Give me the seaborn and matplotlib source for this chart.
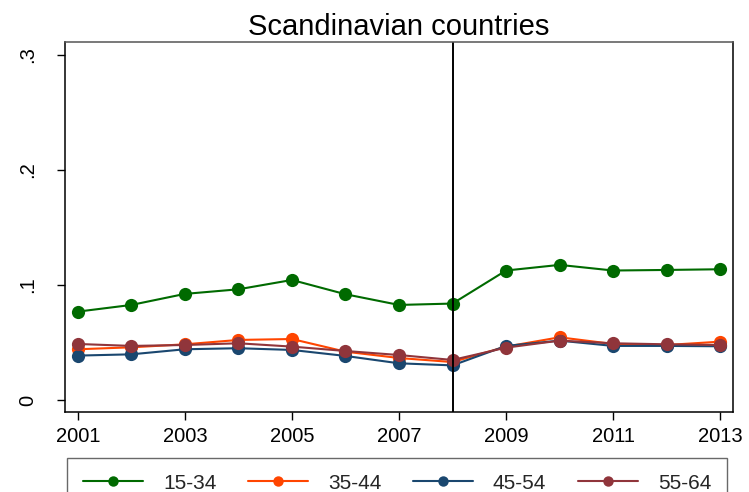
import matplotlib
matplotlib.use("Agg")
import matplotlib.pyplot as plt
import pandas as pd
import seaborn as sns

# ---------------------------------------------------------------------------
# data
# ---------------------------------------------------------------------------
years = list(range(2001, 2014))
groups = ["15-34", "35-44", "45-54", "55-64"]

vals_15_34 = [0.0768, 0.0826, 0.0922, 0.0962, 0.1043, 0.0919, 0.0826,
              0.0838, 0.1125, 0.1174, 0.1125, 0.1130, 0.1136]
vals_35_44 = [0.0441, 0.0458, 0.0484, 0.0522, 0.0530, 0.0420, 0.0365,
              0.0330, 0.0464, 0.0545, 0.0487, 0.0478, 0.0507]
vals_45_54 = [0.0386, 0.0397, 0.0441, 0.0450, 0.0435, 0.0383, 0.0319,
              0.0301, 0.0470, 0.0516, 0.0470, 0.0470, 0.0467]
vals_55_64 = [0.0487, 0.0470, 0.0478, 0.0493, 0.0464, 0.0426, 0.0391,
              0.0348, 0.0455, 0.0516, 0.0493, 0.0484, 0.0478]

colors = ["#006a00", "#ff4500", "#1a476f", "#90353b"]
break_year = 2008

df = pd.DataFrame({
    "year": years * 4,
    "value": vals_15_34 + vals_35_44 + vals_45_54 + vals_55_64,
    "group": [g for g in groups for _ in years],
})

sns.set_theme(style="white")
plt.rcParams["font.family"] = ["Liberation Sans", "DejaVu Sans"]

fig = plt.figure(figsize=(7.49, 4.92), dpi=100)
ax = fig.add_axes([0.0868, 0.1626, 0.8918, 0.752])

sns.lineplot(data=df, x="year", y="value", hue="group", hue_order=groups,
             palette=colors, marker="o", markersize=9.5, markeredgewidth=0,
             linewidth=1.5, ax=ax, legend=False)

ax.axvline(break_year, color="black", linewidth=1.4)

ax.set_xlim(2000.76, 2013.24)
ax.set_ylim(-0.0104, 0.311)
ax.set_xticks([2001, 2003, 2005, 2007, 2009, 2011, 2013])
ax.set_yticks([0, 0.1, 0.2, 0.3])
ax.set_yticklabels(["0", ".1", ".2", ".3"], rotation=90, va="center")
ax.set_xlabel("")
ax.set_ylabel("")
ax.tick_params(axis="both", which="major", length=6, width=1,
               color="black", labelsize=14.5, labelcolor="black",
               left=True, bottom=True)
ax.tick_params(axis="x", pad=5)
ax.tick_params(axis="y", pad=14)

for side in ["left", "bottom", "right"]:
    ax.spines[side].set_color("black")
    ax.spines[side].set_linewidth(1.1)
ax.spines["top"].set_color("#555555")
ax.spines["top"].set_linewidth(1.1)

ax.set_title("Scandinavian countries", fontsize=21, pad=5, color="black")

handles = [plt.Line2D([], [], color=c, marker="o", markersize=7.5,
                      markeredgewidth=0, linewidth=1.5) for c in colors]
leg = fig.legend(handles, groups, loc="upper left",
                 bbox_to_anchor=(0.090, 0.0691), borderaxespad=0,
                 ncol=4, fontsize=15, frameon=True, fancybox=False,
                 handlelength=2.9, handletextpad=0.95, columnspacing=1.5,
                 borderpad=0.75)
leg.get_frame().set_edgecolor("#444444")
leg.get_frame().set_linewidth(1.0)
leg.get_frame().set_facecolor("white")

fig.savefig("out.png", dpi=100)
